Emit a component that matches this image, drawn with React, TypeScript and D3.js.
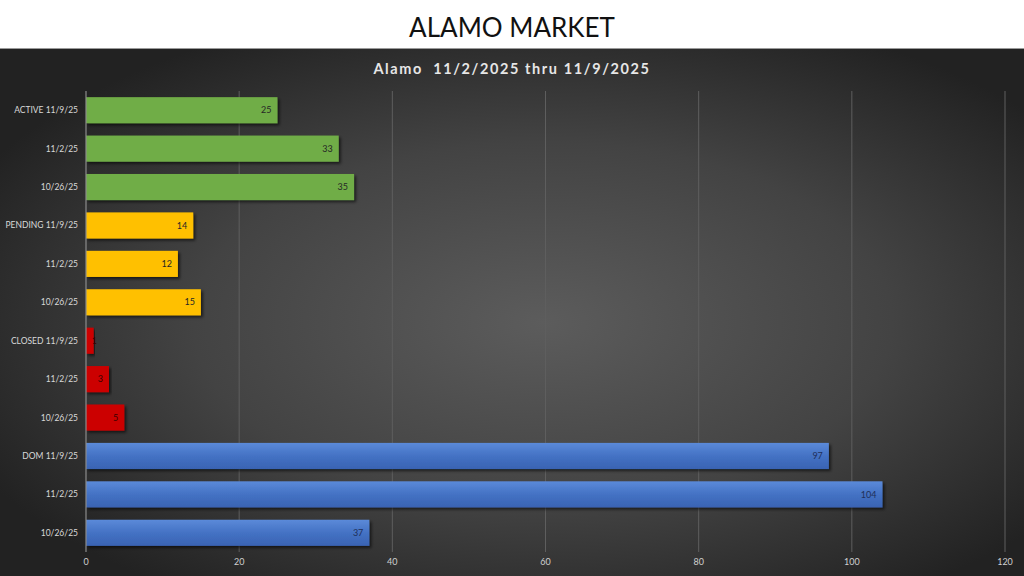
import * as d3 from "d3";

// rows top-to-bottom as shown on the chart
const labels = [
  "ACTIVE 11/9/25", "11/2/25", "10/26/25",
  "PENDING 11/9/25", "11/2/25", "10/26/25",
  "CLOSED 11/9/25", "11/2/25", "10/26/25",
  "DOM 11/9/25", "11/2/25", "10/26/25",
];
const values = [25, 33, 35, 14, 12, 15, 1, 3, 5, 97, 104, 37];
const groups = ["active", "active", "active", "pending", "pending", "pending", "closed", "closed", "closed", "dom", "dom", "dom"];
const xTicks = [0, 20, 40, 60, 80, 100, 120];

const groupFill: Record<string, string> = {
  active: "#70ad47",
  pending: "#ffc000",
  closed: "#cc0000",
  dom: "url(#blueGrad)",
};
const groupText: Record<string, string> = {
  active: "#262626",
  pending: "#262626",
  closed: "#3a0000",
  dom: "#1f2f5a",
};

const App = () => {
  const width = 1024;
  const height = 576;
  const headerH = 48;

  const x = d3.scaleLinear().domain([0, 120]).range([86, 1005]);
  const y = d3
    .scaleBand<number>()
    .domain(d3.range(labels.length))
    .range([91, 552])
    .paddingInner(0.32)
    .paddingOuter(0.16);

  const font = "Lato, 'Open Sans', sans-serif";

  return (
    <svg
      width={width}
      height={height}
      style={{ position: "absolute", left: 0, top: 0 }}
    >
      <defs>
        <radialGradient id="bg" cx="53%" cy="52%" r="62%">
          <stop offset="0%" stopColor="#5c5c5c" />
          <stop offset="55%" stopColor="#434343" />
          <stop offset="100%" stopColor="#222222" />
        </radialGradient>
        <linearGradient id="blueGrad" x1="0" y1="0" x2="0" y2="1">
          <stop offset="0%" stopColor="#5b8ad9" />
          <stop offset="50%" stopColor="#4472c4" />
          <stop offset="100%" stopColor="#3963b3" />
        </linearGradient>
        <filter id="shadow" x="-5%" y="-20%" width="115%" height="160%">
          <feDropShadow dx="2" dy="2" stdDeviation="1.5" floodColor="#000" floodOpacity="0.6" />
        </filter>
      </defs>

      <rect x={0} y={0} width={width} height={headerH} fill="#ffffff" />
      <text
        x={512}
        y={37}
        textAnchor="middle"
        fontFamily={font}
        fontSize={26}
        fill="#111"
      >
        ALAMO MARKET
      </text>

      <rect x={0} y={headerH} width={width} height={height - headerH} fill="url(#bg)" />
      <line x1={0} x2={width} y1={headerH + 0.5} y2={headerH + 0.5} stroke="#9a9a9a" />

      <text
        x={512}
        y={74}
        textAnchor="middle"
        fontFamily={font}
        fontSize={14.5}
        fontWeight={700}
        letterSpacing={1.6}
        fill="#e6e6e6"
        style={{ whiteSpace: "pre" }}
      >
        {"Alamo  11/2/2025 thru 11/9/2025"}
      </text>

      {/* gridlines */}
      {xTicks.slice(1).map((t) => (
        <line
          key={t}
          x1={x(t)}
          x2={x(t)}
          y1={91}
          y2={552}
          stroke="#5e5e5e"
          strokeWidth={1}
        />
      ))}

      {/* bars */}
      {values.map((v, i) => (
        <rect
          key={i}
          x={x(0)}
          y={y(i)!}
          width={x(v) - x(0)}
          height={y.bandwidth()}
          fill={groupFill[groups[i]]}
          filter="url(#shadow)"
        />
      ))}

      {/* axis line */}
      <line x1={x(0)} x2={x(0)} y1={91} y2={552} stroke="#8c8c8c" strokeWidth={1.2} />

      {/* data labels */}
      {values.map((v, i) => (
        <text
          key={i}
          x={Math.max(x(v) - 6, x(0) + 11)}
          y={y(i)! + y.bandwidth() / 2}
          dy="0.35em"
          textAnchor="end"
          fontFamily={font}
          fontSize={9}
          fill={groupText[groups[i]]}
        >
          {v}
        </text>
      ))}

      {/* category labels */}
      {labels.map((l, i) => (
        <text
          key={i}
          x={78}
          y={y(i)! + y.bandwidth() / 2}
          dy="0.35em"
          textAnchor="end"
          fontFamily={font}
          fontSize={8.5}
          fill="#d9d9d9"
        >
          {l}
        </text>
      ))}

      {/* x tick labels */}
      {xTicks.map((t) => (
        <text
          key={t}
          x={x(t)}
          y={565}
          textAnchor="middle"
          fontFamily={font}
          fontSize={9}
          fill="#cfcfcf"
        >
          {t}
        </text>
      ))}
    </svg>
  );
};

export default App;
